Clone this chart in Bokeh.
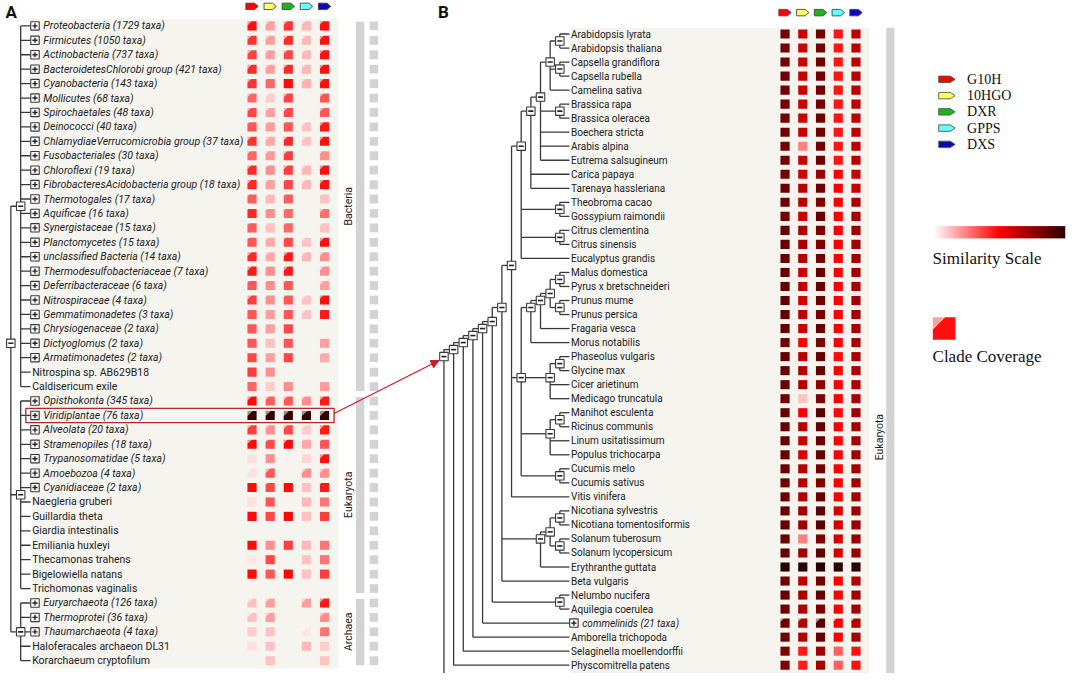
import math
from bokeh.plotting import figure
from bokeh.models import Range1d, Arrow, NormalHead
from bokeh.embed import file_html
from bokeh.resources import INLINE
from bokeh.core.properties import value

# ---------------- data ----------------
genes = ["G10H", "10HGO", "DXR", "GPPS", "DXS"]
gene_colors = ["#ff0000", "#ffff66", "#1db31d", "#66ffff", "#0a0ab4"]

a_labels = ["Proteobacteria (1729 taxa)", "Firmicutes (1050 taxa)", "Actinobacteria (737 taxa)",
            "BacteroidetesChlorobi group (421 taxa)", "Cyanobacteria (143 taxa)", "Mollicutes (68 taxa)",
            "Spirochaetales (48 taxa)", "Deinococci (40 taxa)", "ChlamydiaeVerrucomicrobia group (37 taxa)",
            "Fusobacteriales (30 taxa)", "Chloroflexi (19 taxa)", "FibrobacteresAcidobacteria group (18 taxa)",
            "Thermotogales (17 taxa)", "Aquificae (16 taxa)", "Synergistaceae (15 taxa)",
            "Planctomycetes (15 taxa)", "unclassified Bacteria (14 taxa)", "Thermodesulfobacteriaceae (7 taxa)",
            "Deferribacteraceae (6 taxa)", "Nitrospiraceae (4 taxa)", "Gemmatimonadetes (3 taxa)",
            "Chrysiogenaceae (2 taxa)", "Dictyoglomus (2 taxa)", "Armatimonadetes (2 taxa)",
            "Nitrospina sp. AB629B18", "Caldisericum exile",
            "Opisthokonta (345 taxa)", "Viridiplantae (76 taxa)", "Alveolata (20 taxa)",
            "Stramenopiles (18 taxa)", "Trypanosomatidae (5 taxa)", "Amoebozoa (4 taxa)",
            "Cyanidiaceae (2 taxa)", "Naegleria gruberi", "Guillardia theta", "Giardia intestinalis",
            "Emiliania huxleyi", "Thecamonas trahens", "Bigelowiella natans", "Trichomonas vaginalis",
            "Euryarchaeota (126 taxa)", "Thermoprotei (36 taxa)", "Thaumarchaeota (4 taxa)",
            "Haloferacales archaeon DL31", "Korarchaeum cryptofilum"]
a_domains = ["Bacteria"] * 26 + ["Eukaryota"] * 14 + ["Archaea"] * 5
N = None
# similarity (0 = white, 0.5 = red, 1 = darkest)
a_G10H = [.47, .40, .37, .42, .40, .30, .36, .33, .40, .30, .42, .42, .32, .42, .32, .33, .42, .45, .33, .38, .33, .33, .33, .36, .38, .30,
          .48, .97, .38, .48, .06, .06, .48, .06, .48, N, .48, .05, .48, N,
          .12, .12, .10, .06, N]
a_10HGO = [.19, .19, .19, .19, .30, .10, .19, .19, .17, .20, .22, .19, .14, .22, .12, .17, .17, .22, .22, .22, .19, .19, .12, .19, .22, .10,
           .32, .97, .22, .35, .22, .33, .36, .33, .36, N, .22, .36, .33, N,
           .19, .19, .12, .12, .12]
a_DXR = [.40, .42, .36, .42, .48, .37, .36, .33, .42, .38, .38, .36, .32, .30, .30, .36, .45, .45, .33, .33, .33, .36, .33, .36, N, .22,
         .33, .97, .36, .48, N, N, .48, N, .49, N, .38, N, .49, N,
         N, N, N, N, N]
a_GPPS = [.14, .14, .14, .14, .15, N, N, .12, .12, N, .14, .14, N, N, N, .12, .14, N, N, .12, .12, N, N, N, N, N,
          .22, .97, .10, .17, .08, .22, .12, .14, .12, N, .14, .12, .12, N,
          .19, N, .05, .14, N]
a_DXS = [.47, .47, .47, .47, .47, .33, .33, .45, .47, .22, .47, .47, .12, .28, .12, .47, .22, .22, .19, .47, .45, N, .19, .17, N, .19,
         .45, .97, .45, .33, .47, .22, .45, .27, .38, N, .27, .27, .38, N,
         .45, .22, .27, .10, .12]
# clade coverage: size of the uncovered corner (fraction of cell side)
a_cut_G10H = [.45, .45, .45, .45, .4, .4, .4, .2, .4, .3, .4, .4, .2, .1, .2, .2, .45, .45, .2, .45, .1, 0, 0, 0, 0, 0,
              .45, .55, .4, .45, 0, .5, 0, 0, 0, 0, 0, 0, 0, 0, .5, .5, 0, 0, 0]
a_cut_10HGO = [.4, .4, .3, .4, .15, .4, .4, .25, .4, .3, .25, .3, .3, .2, .3, .3, .4, .2, .2, .2, .1, 0, 0, 0, 0, 0,
               .4, .55, .35, .3, 0, .5, .2, 0, 0, 0, 0, 0, 0, 0, .45, .45, 0, 0, 0]
a_cut_DXR = [.4, .45, .4, .4, 0, .4, .4, .2, .4, .4, .4, .2, .2, .2, .2, .2, .45, .45, .2, .2, .1, 0, 0, 0, 0, 0,
             .4, .55, .4, .4, 0, 0, 0, 0, 0, 0, 0, 0, 0, 0, 0, 0, 0, 0, 0]
a_cut_GPPS = [.4, .4, .4, .4, .35, 0, 0, .4, .4, 0, .4, .4, 0, 0, 0, .4, .4, 0, 0, .45, .45, 0, 0, 0, 0, 0,
              .35, .55, .4, .2, 0, .5, 0, 0, 0, 0, 0, 0, 0, 0, .5, 0, .5, 0, 0]
a_cut_DXS = [.35, .4, .4, .4, .4, .4, .4, .4, .4, .3, .4, .4, .2, .4, .3, .45, .4, .4, .4, .35, .1, 0, .1, .2, 0, 0,
             .4, .55, .45, .2, .45, .45, .15, 0, 0, 0, 0, 0, 0, 0, .45, .45, .2, 0, 0]

# Viridiplantae subtree (panel B)
brassicaceae = ((("Arabidopsis lyrata", "Arabidopsis thaliana"), ("Capsella grandiflora", "Capsella rubella"), "Camelina sativa"),
                ("Brassica rapa", "Brassica oleracea"), "Boechera stricta", "Arabis alpina", "Eutrema salsugineum")
brassicales = (brassicaceae, "Carica papaya", "Tarenaya hassleriana")
malvids = (brassicales, ("Theobroma cacao", "Gossypium raimondii"), ("Citrus clementina", "Citrus sinensis"), "Eucalyptus grandis")
rosales = ((((("Malus domestica", "Pyrus x bretschneideri"), ("Prunus mume", "Prunus persica")), "Fragaria vesca")), "Morus notabilis")
fabids = (rosales, (("Phaseolus vulgaris", "Glycine max"), "Cicer arietinum", "Medicago truncatula"),
          (("Manihot esculenta", "Ricinus communis"), "Linum usitatissimum", "Populus trichocarpa"),
          ("Cucumis melo", "Cucumis sativus"))
rosids = (malvids, fabids, "Vitis vinifera")
asterids = ((("Nicotiana sylvestris", "Nicotiana tomentosiformis"), ("Solanum tuberosum", "Solanum lycopersicum")), "Erythranthe guttata")
core_eudicots = (rosids, asterids, "Beta vulgaris")
eudicots = (core_eudicots, ("Nelumbo nucifera", "Aquilegia coerulea"))
b_tree = (((((eudicots, "commelinids (21 taxa)"), "Amborella trichopoda"), "Selaginella moellendorffii"),
           "Physcomitrella patens"), None)

b_G10H = [.83] * 10 + [.83, .85, .85, .83, .86, .86, .86, .86, .86, .86, .86, .86, .83, .86, .86, .84, .84, .86, .86, .86, .86,
                       .84, .84, .84, .86, .86, .86, .86, 1.0, .84, .86, .84, .84, .84, .80, .80]
b_10HGO = [.63] * 8 + [.25, .63, .60, .66, .66, .63, .70, .70, .68, .63, .66, .60, .66, .63, .50, .66, .68, .68, .12, .52, .68,
                       .63, .58, .68, .68, .68, .72, .72, .25, .72, 1.0, .66, .70, .70, .68, .68, .45, .44]
b_DXR = [.83] * 9 + [.85, .72, .85, .80, .86, .80, .80, .83, .86, .85, .85, .82, .86, .80, .86, .86, .76, .80, .88, .86, .86,
                     .86, .83, .80, .86, .88, .88, .80, .88, 1.0, .84, .86, .80, .88, .86, .72, .72]
b_GPPS = [.46] * 10 + [.5] * 13 + [.48, .5, .5, .5, .48, .5, .5, .5, .5, .5, .5, .60, .60, .60, .60, 1.0, .5, .5, .5, .5, .5, .31, .31]
b_DXS = [.66] * 10 + [.63, .63, .70, .72] + [.72] * 9 + [.70, .70, .70, .70] + [.72] * 7 + [.74] * 4 + [1.0, .68, .72, .72, .68, .72, .47, .47]
b_cut = {"commelinids (21 taxa)": [.35, .35, .45, .3, .3]}

# ---------------- helpers ----------------
def cmap(t):
    t = min(max(t, 0.0), 1.0)
    if t <= 0.5:
        g = int(round(255 * (1 - t / 0.5)))
        return "#%02x%02x%02x" % (255, g, g)
    r = int(round(255 - (255 - 42) * (t - 0.5) / 0.5))
    return "#%02x%02x%02x" % (r, 0, 0)


def lighten(hexc, k):
    r, g, b = int(hexc[1:3], 16), int(hexc[3:5], 16), int(hexc[5:7], 16)
    r, g, b = [int(round(c + (255 - c) * k)) for c in (r, g, b)]
    return "#%02x%02x%02x" % (r, g, b)


def layout(tree, row_y, leaf_x, step):
    leaves, segs, nodes = [], [], []

    def height(t):
        return 1 + max(height(c) for c in t) if isinstance(t, tuple) else 0

    def rec(t):
        if not isinstance(t, tuple):
            i = len(leaves)
            leaves.append(t)
            return leaf_x, row_y(i), i, i
        res = [rec(c) for c in t]
        first, last = res[0][2], res[-1][3]
        y = (row_y(first) + row_y(last)) / 2
        x = leaf_x - height(t) * step
        segs.append((x, res[0][1], x, res[-1][1]))
        for cx, cy, _, _ in res:
            segs.append((x, cy, cx, cy))
        nodes.append((x, y))
        return x, y, first, last

    rx, ry, _, _ = rec(tree)
    return leaves, segs, nodes, (rx, ry)


def tag(cx, cy, w, h):
    x0 = cx - w / 2
    return ([x0, x0 + 0.7 * w, x0 + w, x0 + 0.7 * w, x0],
            [cy - h / 2, cy - h / 2, cy, cy + h / 2, cy + h / 2])


FONT = value("Roboto")
LINE = "#383838"

p = figure(width=1068, height=673, x_range=Range1d(0, 1084), y_range=Range1d(689, 0),
           output_backend="svg", toolbar_location=None, min_border=0,
           x_axis_location=None, y_axis_location=None)
p.grid.visible = False
p.outline_line_color = None
p.background_fill_color = "white"

# ---------------- panel layouts ----------------
A_Y0, A_DY = 26.0, 14.77
B_Y0, B_DY = 34.3, 14.36
a_row_y = lambda i: A_Y0 + i * A_DY
b_row_y = lambda i: B_Y0 + i * B_DY

dom_order = []
for d in a_domains:
    if d not in dom_order:
        dom_order.append(d)
a_tree = tuple(tuple(l for l, d in zip(a_labels, a_domains) if d == dom) for dom in dom_order)

A_LEAF_X, A_STEP = 30.5, 10.0
B_LEAF_X, B_STEP = 577.5, 9.8
a_leaves, a_segs, a_nodes, a_root = layout(a_tree, a_row_y, A_LEAF_X, A_STEP)
b_leaves, b_segs, b_nodes, b_root = layout(b_tree, b_row_y, B_LEAF_X, B_STEP)
a_segs.append((a_root[0] - 5, a_root[1], a_root[0], a_root[1]))

a_cols = [255.3 + j * 18.4 for j in range(5)]
b_cols = [796.3 + j * 18.0 for j in range(5)]
CELL = 9.3

# backgrounds
p.quad(left=[A_LEAF_X + 1.2], right=[343], top=[a_row_y(0) - 7], bottom=[a_row_y(len(a_labels) - 1) + 8],
       fill_color="#f5f4ef", line_color=None)
nb = len([l for l in b_leaves if l is not None])
p.quad(left=[B_LEAF_X + 1.5], right=[882], top=[b_row_y(0) - 6.3], bottom=[b_row_y(nb - 1) + 12],
       fill_color="#f5f4ef", line_color=None)

# domain bars (A)
for dom in dom_order:
    idx = [i for i, d in enumerate(a_domains) if d == dom]
    t, b = a_row_y(idx[0]) - 4.2, a_row_y(idx[-1]) + 4.6
    p.quad(left=[360.7], right=[369.3], top=[t], bottom=[b], fill_color="#d3d3d3", line_color=None)
    p.text(x=[353], y=[(a_row_y(idx[0]) + a_row_y(idx[-1])) / 2], text=[dom], angle=math.pi / 2,
           text_font=FONT, text_font_size="10.5px", text_align="center", text_baseline="middle", text_color="#222")
# grey presence column (A)
p.rect(x=[379] * len(a_labels), y=[a_row_y(i) for i in range(len(a_labels))], width=8.6, height=9,
       fill_color="#d3d3d3", line_color=None)
# domain bar (B)
p.quad(left=[899], right=[907.3], top=[b_row_y(0) - 6.3], bottom=[b_row_y(nb - 1) + 12],
       fill_color="#d3d3d3", line_color=None)
p.text(x=[892], y=[447], text=["Eukaryota"], angle=math.pi / 2, text_font=FONT, text_font_size="10.5px",
       text_align="center", text_baseline="middle", text_color="#222")

# tree lines
for segs in (a_segs, b_segs):
    p.segment(x0=[s[0] for s in segs], y0=[s[1] for s in segs], x1=[s[2] for s in segs], y1=[s[3] for s in segs],
              line_color=LINE, line_width=1.3)

# node boxes
for nodes in (a_nodes, b_nodes):
    xs = [n[0] for n in nodes]
    ys = [n[1] for n in nodes]
    p.rect(x=xs, y=ys, width=8.6, height=8.6, fill_color="white", line_color=LINE, line_width=1.1)
    p.segment(x0=[x - 2.6 for x in xs], y0=ys, x1=[x + 2.6 for x in xs], y1=ys, line_color="#222", line_width=1.6)


def draw_labels(leaves, row_y, leaf_x, fsize):
    coll = [(i, l) for i, l in enumerate(leaves) if l is not None and "taxa)" in l]
    plain = [(i, l) for i, l in enumerate(leaves) if l is not None and "taxa)" not in l]
    bx = [leaf_x + 4.5] * len(coll)
    by = [row_y(i) for i, _ in coll]
    p.rect(x=bx, y=by, width=8.6, height=8.6, fill_color="white", line_color=LINE, line_width=1.1)
    p.segment(x0=[x - 2.6 for x in bx], y0=by, x1=[x + 2.6 for x in bx], y1=by, line_color="#222", line_width=1.4)
    p.segment(x0=bx, y0=[y - 2.6 for y in by], x1=bx, y1=[y + 2.6 for y in by], line_color="#222", line_width=1.4)
    p.text(x=[leaf_x + 13] * len(coll), y=by, text=[l for _, l in coll], text_font=FONT, text_font_size=fsize,
           text_font_style="italic", text_baseline="middle", text_color="#222")
    p.text(x=[leaf_x + 1.6] * len(plain), y=[row_y(i) for i, _ in plain], text=[l for _, l in plain],
           text_font=FONT, text_font_size=fsize, text_baseline="middle", text_color="#222")


draw_labels(a_leaves, a_row_y, A_LEAF_X, "10.5px")
draw_labels(b_leaves, b_row_y, B_LEAF_X, "10px")

# heat-map cells
def draw_cells(sims, cuts, cols, row_y):
    bxs, bys, bcs, txs, tys, tcs = [], [], [], [], [], []
    for j, (vals, cutv) in enumerate(zip(sims, cuts)):
        for i, v in enumerate(vals):
            if v is None:
                continue
            col = cmap(v)
            cx, cy, s = cols[j], row_y(i), CELL
            x0, x1, y0, y1 = cx - s / 2, cx + s / 2, cy - s / 2, cy + s / 2
            c = cutv[i] * s
            if c > 0:
                bxs.append([x0 + c, x1, x1, x0, x0]); bys.append([y0, y0, y1, y1, y0 + c])
                txs.append([x0, x0 + c, x0]); tys.append([y0, y0, y0 + c]); tcs.append(lighten(col, 0.55))
            else:
                bxs.append([x0, x1, x1, x0]); bys.append([y0, y0, y1, y1])
            bcs.append(col)
    p.patches(xs=txs, ys=tys, fill_color=tcs, line_color=None)
    p.patches(xs=bxs, ys=bys, fill_color=bcs, line_color=None)


draw_cells([a_G10H, a_10HGO, a_DXR, a_GPPS, a_DXS],
           [a_cut_G10H, a_cut_10HGO, a_cut_DXR, a_cut_GPPS, a_cut_DXS], a_cols, a_row_y)
b_names = [l for l in b_leaves if l is not None]
b_cuts = [[b_cut.get(n, [0] * 5)[j] for n in b_names] for j in range(5)]
draw_cells([b_G10H, b_10HGO, b_DXR, b_GPPS, b_DXS], b_cuts, b_cols, b_row_y)

# column header tags
for cols, yy in ((a_cols, 6.0), (b_cols, 12.4)):
    xs, ys = zip(*[tag(c, yy, 12.5, 6.6) for c in cols])
    p.patches(xs=list(xs), ys=list(ys), fill_color=gene_colors, line_color="#444", line_width=0.9)

# panel letters
p.text(x=[5, 444], y=[12, 12], text=["A", "B"], text_font=FONT, text_font_size="17px", text_font_style="bold",
       text_baseline="middle", text_color="#111")

# highlight box + arrow
vi = a_labels.index("Viridiplantae (76 taxa)")
vy = a_row_y(vi)
right_edge = a_cols[-1] + 9.7
p.quad(left=[A_LEAF_X - 4.8], right=[right_edge], top=[vy - 7.3], bottom=[vy + 7.3],
       fill_alpha=0, line_color="#b3282d", line_width=1.3)
p.add_layout(Arrow(end=NormalHead(size=8, fill_color="#c42126", line_color="#c42126"),
                   x_start=right_edge, y_start=vy - 2, x_end=b_root[0] - 5, y_end=b_root[1] + 4,
                   line_color="#c42126", line_width=1.3))

# legend: genes
leg_y = [80.7 + k * 16.65 for k in range(5)]
xs, ys = zip(*[tag(960.6, y, 16.7, 6.6) for y in leg_y])
p.patches(xs=list(xs), ys=list(ys), fill_color=gene_colors, line_color="#555", line_width=0.9)
p.text(x=[981] * 5, y=leg_y, text=genes, text_font=value("Liberation Serif"), text_font_size="14px",
       text_baseline="middle", text_color="#111")

# legend: similarity scale
nsteps = 90
g0, g1 = 946.7, 1080.7
w = (g1 - g0) / nsteps
p.quad(left=[g0 + k * w for k in range(nsteps)], right=[min(g0 + (k + 1) * w + 1.2, g1) for k in range(nsteps)],
       top=[231] * nsteps, bottom=[243.3] * nsteps, fill_color=[cmap((k + 0.5) / nsteps) for k in range(nsteps)],
       line_color=None)
p.text(x=[946], y=[264], text=["Similarity Scale"], text_font=value("Liberation Serif"), text_font_size="17px",
       text_baseline="middle", text_color="#111")

# legend: clade coverage
lc = cmap(0.47)
s, x0, y0, c = 23.0, 946.3, 324.3, 11.5
p.patches(xs=[[x0, x0 + c, x0]], ys=[[y0, y0, y0 + c]], fill_color=[lighten(lc, 0.6)], line_color=None)
p.patches(xs=[[x0 + c + 0.8, x0 + s, x0 + s, x0, x0]], ys=[[y0, y0, y0 + s, y0 + s, y0 + c + 0.8]],
          fill_color=[lc], line_color=None)
p.text(x=[946], y=[364], text=["Clade Coverage"], text_font=value("Liberation Serif"), text_font_size="17px",
       text_baseline="middle", text_color="#111")

open("out.html", "w").write(file_html(p, INLINE))
